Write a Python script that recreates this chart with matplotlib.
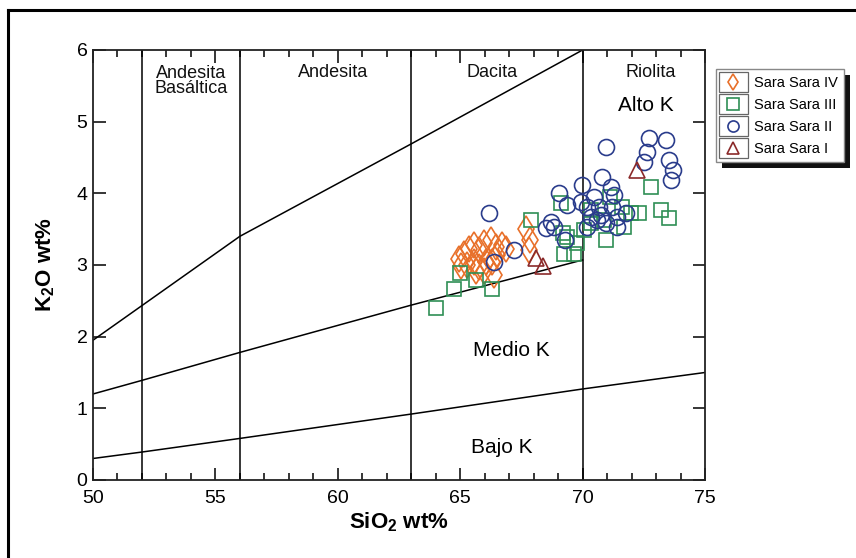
import numpy as np
import matplotlib
matplotlib.use("Agg")
import matplotlib.pyplot as plt
from matplotlib.lines import Line2D
from matplotlib.patches import Rectangle
from matplotlib.legend_handler import HandlerLine2D

plt.rcParams['font.family'] = ['Liberation Sans', 'DejaVu Sans']
plt.rcParams['mathtext.fontset'] = 'custom'
plt.rcParams['mathtext.rm'] = 'Liberation Sans'
plt.rcParams['mathtext.bf'] = 'Liberation Sans:bold'

# classification lines (SiO2, K2O)
high_k_x = [50, 56, 63, 70]
high_k_y = [1.95, 3.4, 4.69, 6.0]
med_k_x = [50, 52, 56, 63, 70]
med_k_y = [1.2, 1.39, 1.78, 2.44, 3.07]
low_k_x = [50, 52, 56, 63, 70, 75]
low_k_y = [0.3, 0.39, 0.58, 0.92, 1.27, 1.5]
rock_bounds = [52, 56, 63, 70]

# Sara Sara IV
ss4_sio2 = [64.95, 65.15, 65.36, 65.56, 65.77, 65.97, 66.24, 66.45, 66.72, 66.86,
            65.02, 65.29, 65.56, 65.77, 66.04, 66.31, 66.38, 65.97, 65.63, 66.51,
            67.7, 67.8, 67.85]
ss4_k2o = [3.09, 3.16, 3.23, 3.28, 3.21, 3.30, 3.35, 3.25, 3.28, 3.23,
           2.98, 3.00, 3.04, 2.97, 3.04, 3.04, 2.86, 2.91, 2.91, 3.14,
           3.50, 3.21, 3.35]

# Sara Sara III
ss3_sio2 = [64.0, 64.74, 65.63, 66.31, 65.0, 67.88, 69.25, 69.66, 69.79, 70.06,
            69.38, 70.34, 70.95, 70.88, 71.70, 71.97, 72.31, 72.79, 73.2, 73.54,
            69.1, 71.6, 70.34, 71.1, 69.2]
ss3_k2o = [2.40, 2.67, 2.79, 2.67, 2.89, 3.63, 3.16, 3.16, 3.30, 3.49,
           3.39, 3.58, 3.35, 3.63, 3.53, 3.72, 3.72, 4.09, 3.77, 3.65,
           3.86, 3.81, 3.77, 3.95, 3.45]

# Sara Sara II
ss2_sio2 = [66.17, 67.2, 66.38, 68.7, 68.5, 68.84, 69.05, 69.38, 69.3, 69.99,
            69.93, 70.2, 70.47, 70.68, 70.8, 70.95, 71.15, 71.29, 71.22, 71.42,
            70.6, 70.34, 70.95, 71.77, 72.72, 73.4, 72.65, 72.51, 73.54, 73.68,
            73.6, 71.42, 70.2, 70.75]
ss2_k2o = [3.72, 3.21, 3.04, 3.60, 3.51, 3.53, 4.00, 3.84, 3.35, 4.11,
           3.88, 3.81, 3.95, 3.81, 4.23, 4.65, 4.09, 3.97, 3.81, 3.67,
           3.63, 3.67, 3.58, 3.72, 4.77, 4.74, 4.58, 4.44, 4.46, 4.32,
           4.18, 3.53, 3.53, 3.70]

# Sara Sara I
ss1_sio2 = [68.1, 68.4, 72.24]
ss1_k2o = [3.10, 2.98, 4.32]


class BoxedHandler(HandlerLine2D):
    # marker drawn inside its own little box, like the original legend
    def create_artists(self, legend, orig_handle, xdescent, ydescent,
                       width, height, fontsize, trans):
        arts = super().create_artists(legend, orig_handle, xdescent, ydescent,
                                      width, height, fontsize, trans)
        for a in arts:
            a.set_markersize(8)
        box = Rectangle((-xdescent - 3, -ydescent - 3.5), width + 6, height + 7,
                        fill=False, edgecolor='#666666', lw=0.9, transform=trans)
        return [box] + arts


fig = plt.figure(figsize=(8.56, 5.58), dpi=100)
ax = fig.add_axes([0.1086, 0.1398, 0.715, 0.7706])

lk = dict(color='black', lw=1.1, zorder=2)
ax.plot(high_k_x, high_k_y, **lk)
ax.plot(med_k_x, med_k_y, **lk)
ax.plot(low_k_x, low_k_y, **lk)
for b in rock_bounds:
    ax.plot([b, b], [0, 6], **lk)

mk = dict(linestyle='none', fillstyle='none', markeredgewidth=1.2, zorder=3)
h4, = ax.plot(ss4_sio2, ss4_k2o, marker='d', markersize=13, color='#e8702a', label='Sara Sara IV', **mk)
h3, = ax.plot(ss3_sio2, ss3_k2o, marker='s', markersize=10.5, color='#2f8f55', label='Sara Sara III', **mk)
h2, = ax.plot(ss2_sio2, ss2_k2o, marker='o', markersize=11.5, color='#2a3c8c', label='Sara Sara II', **mk)
h1, = ax.plot(ss1_sio2, ss1_k2o, marker='^', markersize=12, color='#8b2a2a', label='Sara Sara I', **mk)

ax.set_xlim(50, 75)
ax.set_ylim(0, 6)
ax.set_xticks([50, 55, 60, 65, 70, 75])
ax.set_xticks(np.arange(50, 76, 1), minor=True)
ax.set_yticks(np.arange(0, 7, 1))
ax.tick_params(which='both', direction='in', top=True, right=True, width=1.1,
               labelsize=14, colors='black')
ax.tick_params(which='major', length=9, pad=4)
ax.tick_params(axis='x', which='major', pad=7)
ax.tick_params(which='minor', length=5)
for s in ax.spines.values():
    s.set_linewidth(1.3)
    s.set_color('#222222')

ax.set_xlabel(r'$\mathbf{SiO_2}$ wt%', fontsize=16, fontweight='bold', labelpad=3)
ax.set_ylabel(r'$\mathbf{K_2O}$ wt%', fontsize=16, fontweight='bold', labelpad=14)

tk = dict(ha='center', va='center', fontsize=13, color='#111111')
ax.text(54.0, 5.57, 'Andesita\nBasáltica', linespacing=0.85, **tk)
ax.text(59.8, 5.68, 'Andesita', **tk)
ax.text(66.3, 5.68, 'Dacita', **tk)
ax.text(72.8, 5.68, 'Riolita', **tk)
ax.text(72.6, 5.23, 'Alto K', ha='center', va='center', fontsize=15)
ax.text(67.1, 1.81, 'Medio K', ha='center', va='center', fontsize=15)
ax.text(66.7, 0.46, 'Bajo K', ha='center', va='center', fontsize=15)

leg = fig.legend(handles=[h4, h3, h2, h1], loc='upper left',
                 bbox_to_anchor=(0.837, 0.876), fontsize=10.5, frameon=True,
                 fancybox=False, edgecolor='#888888', framealpha=1,
                 borderpad=0.45, labelspacing=0.55, numpoints=1,
                 handlelength=1.4, handletextpad=0.7, borderaxespad=0,
                 handler_map={Line2D: BoxedHandler()})
leg.get_frame().set_linewidth(1.0)
leg.set_zorder(6)

# dark drop shadow behind the legend
fig.canvas.draw()
bb = leg.get_window_extent()
fig.add_artist(Rectangle((bb.x0 + 6, bb.y0 - 6), bb.width, bb.height,
                         transform=None, facecolor='#111111', edgecolor='none',
                         zorder=5))

# outer frame of the figure
fig.add_artist(Line2D([0.0093, 1.0], [0.982, 0.982], color='black', lw=2.2))
fig.add_artist(Line2D([0.0093, 0.0093], [0.0, 0.982], color='black', lw=2.2))

fig.savefig('out.png', dpi=100)
